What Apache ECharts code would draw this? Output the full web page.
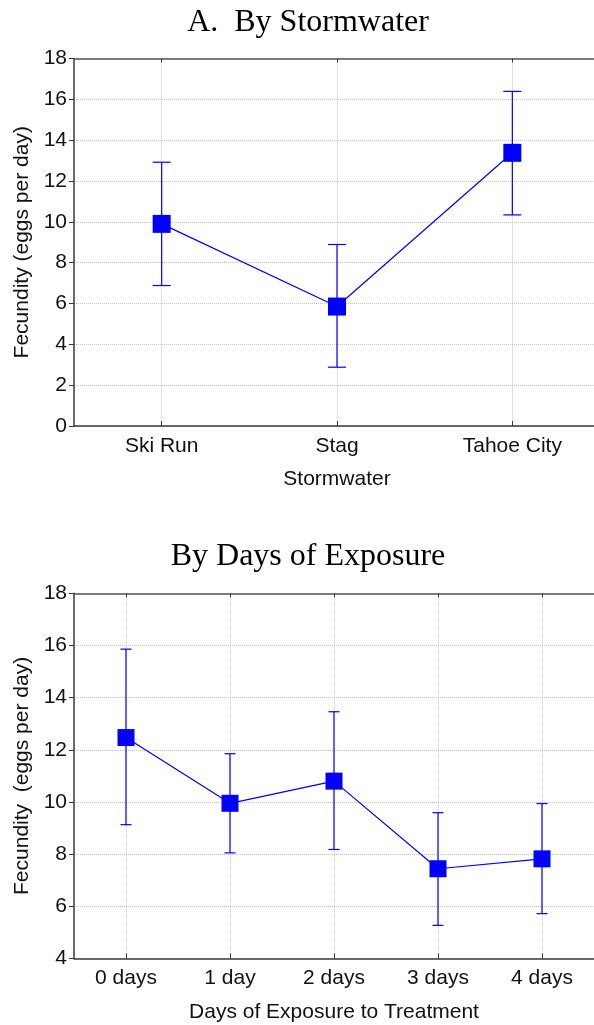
<!DOCTYPE html>
<html><head><meta charset="utf-8">
<script src="https://cdn.jsdelivr.net/npm/echarts@6/dist/echarts.min.js"></script>
<style>html,body{margin:0;padding:0;background:#fff}#c{width:594px;height:1025px}</style>
</head><body><div id="c"></div>
<script>
// ---- data ----
const stormCategories = ['Ski Run', 'Stag', 'Tahoe City'];
const stormMeans = [9.90, 5.85, 13.38];
const stormLower = [6.88, 2.88, 10.34];
const stormUpper = [12.92, 8.89, 16.39];

const dayCategories = ['0 days', '1 day', '2 days', '3 days', '4 days'];
const dayMeans = [12.47, 9.95, 10.80, 7.44, 7.82];
const dayLower = [9.13, 8.05, 8.18, 5.27, 5.72];
const dayUpper = [15.86, 11.85, 13.46, 9.59, 9.94];

const topTitle = 'A.  By Stormwater';
const bottomTitle = 'By Days of Exposure';
const topXName = 'Stormwater';
const bottomXName = 'Days of Exposure to Treatment';
const topYName = 'Fecundity (eggs per day)';
const bottomYName = 'Fecundity  (eggs per day)';
const topYRange = [0, 18, 2];
const bottomYRange = [4, 18, 2];

// ---- styles ----
const BLUE = '#0000ff';
const SANS = 'Liberation Sans';
const gridLine = {show: true, lineStyle: {color: '#c4c4c4', type: 'dotted', width: 1}};
const axisCol = '#3a3a3a';

function errRender(capW) {
  return function (params, api) {
    const i = api.value(0);
    const p1 = api.coord([i, api.value(1)]);
    const p2 = api.coord([i, api.value(2)]);
    const h = capW / 2;
    const st = {stroke: BLUE, lineWidth: 1.2};
    return {type: 'group', children: [
      {type: 'line', shape: {x1: p1[0], y1: p1[1], x2: p2[0], y2: p2[1]}, style: st},
      {type: 'line', shape: {x1: p1[0] - h, y1: p1[1], x2: p1[0] + h, y2: p1[1]}, style: st},
      {type: 'line', shape: {x1: p2[0] - h, y1: p2[1], x2: p2[0] + h, y2: p2[1]}, style: st}
    ]};
  };
}

function xBottom(gi, cats, name, gap, margin) {
  return {
    gridIndex: gi, type: 'category', data: cats, position: 'bottom', boundaryGap: true,
    axisLine: {show: true, lineStyle: {color: axisCol, width: 1.5}},
    axisTick: {show: true, inside: true, alignWithLabel: true, length: 5, lineStyle: {color: axisCol}},
    axisLabel: {fontSize: 21, fontFamily: SANS, color: '#111', margin: margin},
    splitLine: Object.assign({alignWithLabel: true}, gridLine),
    name: name, nameLocation: 'middle', nameGap: gap,
    nameTextStyle: {fontSize: 21, fontFamily: SANS, color: '#111'}
  };
}
function xTop(gi, cats) {
  return {
    gridIndex: gi, type: 'category', data: cats, position: 'top', boundaryGap: true,
    axisLine: {show: true, lineStyle: {color: '#555', width: 1.5}},
    axisTick: {show: true, inside: true, alignWithLabel: true, length: 4, lineStyle: {color: axisCol}},
    axisLabel: {show: false}, splitLine: {show: false}
  };
}
function yAx(gi, r, name, gap) {
  return {
    gridIndex: gi, type: 'value', min: r[0], max: r[1], interval: r[2],
    axisLine: {show: true, lineStyle: {color: axisCol, width: 1.5}},
    axisTick: {show: true, inside: false, length: 5, lineStyle: {color: axisCol}},
    axisLabel: {fontSize: 21, fontFamily: SANS, color: '#111', margin: 7},
    splitLine: gridLine,
    name: name, nameLocation: 'middle', nameGap: gap,
    nameTextStyle: {fontSize: 21, fontFamily: SANS, color: '#111'}
  };
}

const chart = echarts.init(document.getElementById('c'));
chart.setOption({
  animation: false,
  backgroundColor: '#fff',
  graphic: [
    {type: 'text', x: 308, y: 23, style: {text: topTitle, font: '32px "Liberation Serif"', fill: '#000', textAlign: 'center', textVerticalAlign: 'middle'}},
    {type: 'text', x: 308, y: 557, style: {text: bottomTitle, font: '32px "Liberation Serif"', fill: '#000', textAlign: 'center', textVerticalAlign: 'middle'}}
  ],
  grid: [
    {left: 74, top: 58.5, width: 526, height: 367.5, outerBoundsMode: 'none', containLabel: false},
    {left: 74, top: 593.3, width: 520, height: 365.2, outerBoundsMode: 'none', containLabel: false}
  ],
  xAxis: [
    xBottom(0, stormCategories, topXName, 43, 10),
    xTop(0, stormCategories),
    xBottom(1, dayCategories, bottomXName, 43, 9),
    xTop(1, dayCategories)
  ],
  yAxis: [
    yAx(0, topYRange, topYName, 40),
    yAx(1, bottomYRange, bottomYName, 40)
  ],
  series: [
    {type: 'custom', xAxisIndex: 0, yAxisIndex: 0, z: 2,
     renderItem: errRender(18),
     encode: {x: 0, y: [1, 2]},
     data: stormCategories.map((c, i) => [i, stormLower[i], stormUpper[i]])},
    {type: 'line', xAxisIndex: 0, yAxisIndex: 0, z: 3,
     data: stormMeans, symbol: 'rect', symbolSize: 18,
     itemStyle: {color: BLUE}, lineStyle: {color: BLUE, width: 1.2}},
    {type: 'custom', xAxisIndex: 2, yAxisIndex: 1, z: 2,
     renderItem: errRender(11),
     encode: {x: 0, y: [1, 2]},
     data: dayCategories.map((c, i) => [i, dayLower[i], dayUpper[i]])},
    {type: 'line', xAxisIndex: 2, yAxisIndex: 1, z: 3,
     data: dayMeans, symbol: 'rect', symbolSize: 17,
     itemStyle: {color: BLUE}, lineStyle: {color: BLUE, width: 1.2}}
  ]
});
</script>
</body></html>
